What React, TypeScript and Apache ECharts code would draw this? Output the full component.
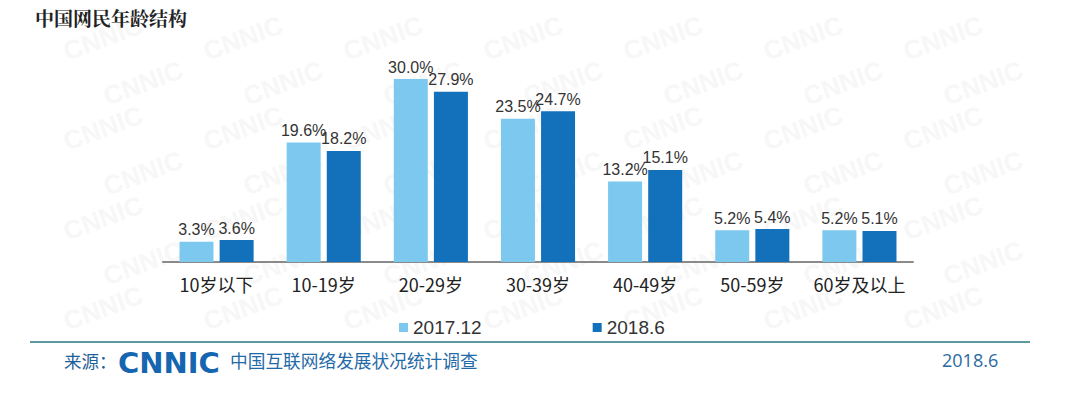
import React, { useEffect, useRef } from "react";
import * as echarts from "echarts";

const categories = ["10岁以下", "10-19岁", "20-29岁", "30-39岁", "40-49岁", "50-59岁", "60岁及以上"];
const series2017 = [3.3, 19.6, 30.0, 23.5, 13.2, 5.2, 5.2];
const series2018 = [3.6, 18.2, 27.9, 24.7, 15.1, 5.4, 5.1];
const seriesNames = ["2017.12", "2018.6"];
const title = "中国网民年龄结构";
const sourceLabel = "来源：";
const sourceText = "中国互联网络发展状况统计调查";
const dateText = "2018.6";

const watermarkPositions: [number, number][] = [];
for (let r = 0; r < 7; r++) {
  for (let c = 0; c < 7; c++) {
    watermarkPositions.push([60 + c * 140 + (r % 2) * 40, 40 + r * 45]);
  }
}

export default function App() {
  const ref = useRef<HTMLDivElement>(null);
  useEffect(() => {
    if (!ref.current) return;
    const chart = echarts.init(ref.current, undefined, { renderer: "svg" });
    const labelFont = "'Liberation Sans', Arial, sans-serif";
    const cjkFont = "'Noto Sans CJK SC', sans-serif";
    const barLabel = {
      show: true,
      position: "top",
      distance: 4,
      color: "#333",
      fontSize: 16,
      fontFamily: labelFont,
      formatter: (p: any) => p.value.toFixed(1) + "%",
    };
    chart.setOption({
      animation: false,
      backgroundColor: "#ffffff",
      grid: { left: 163, right: 167, top: 79, bottom: 133 },
      xAxis: {
        type: "category",
        data: categories,
        axisLine: { lineStyle: { color: "#8a8a8a", width: 2 } },
        axisTick: { show: false },
        axisLabel: { color: "#222", fontSize: 18, margin: 13, interval: 0, fontFamily: cjkFont },
      },
      yAxis: { type: "value", min: 0, max: 30, show: false, splitLine: { show: false } },
      legend: {
        left: 394,
        top: 313,
        itemWidth: 9,
        itemHeight: 9,
        itemGap: 111,
        icon: "rect",
        textStyle: { color: "#333", fontSize: 19, fontFamily: labelFont },
        data: seriesNames,
      },
      series: [
        {
          name: seriesNames[0],
          type: "bar",
          data: series2017,
          barWidth: 34,
          barGap: "18%",
          itemStyle: { color: "#7dc8ef" },
          label: barLabel,
        },
        {
          name: seriesNames[1],
          type: "bar",
          data: series2018,
          barWidth: 34,
          itemStyle: { color: "#1271ba" },
          label: barLabel,
        },
      ],
      graphic: [
        {
          type: "group",
          silent: true,
          z: -10,
          children: watermarkPositions.map(([x, y]) => ({
            type: "text",
            x,
            y,
            rotation: 0.35,
            style: {
              text: "CNNIC",
              fill: "#f7f7f7",
              fontSize: 26,
              fontWeight: "bold",
              fontFamily: labelFont,
            },
          })),
        },
        {
          type: "text",
          left: 35,
          top: 8,
          style: {
            text: title,
            fill: "#222",
            fontSize: 19,
            fontWeight: "bold",
            fontFamily: "'Noto Serif CJK SC', 'Noto Sans CJK SC', serif",
          },
        },
        {
          type: "line",
          shape: { x1: 30, y1: 342, x2: 1030, y2: 342 },
          style: { stroke: "#5d9aa0", lineWidth: 2 },
        },
        {
          type: "text",
          x: 64,
          y: 352,
          style: { text: sourceLabel, fill: "#1f5f99", fontSize: 17.5, fontFamily: cjkFont },
        },
        {
          type: "text",
          x: 118,
          y: 348,
          style: {
            text: "CNNIC",
            fill: "#1565b0",
            fontSize: 29,
            fontWeight: 900,
            fontFamily: "'DejaVu Sans', sans-serif",
          },
        },
        {
          type: "text",
          x: 230,
          y: 351,
          style: { text: sourceText, fill: "#1f6aa8", fontSize: 17.7, fontFamily: cjkFont },
        },
        {
          type: "text",
          x: 942,
          y: 351,
          style: { text: dateText, fill: "#2a6aa0", fontSize: 18, fontFamily: "'Open Sans', sans-serif" },
        },
      ],
    });
    return () => chart.dispose();
  }, []);
  return (
    <div
      ref={ref}
      style={{ position: "fixed", left: 0, top: 0, width: 1080, height: 395 }}
    />
  );
}
